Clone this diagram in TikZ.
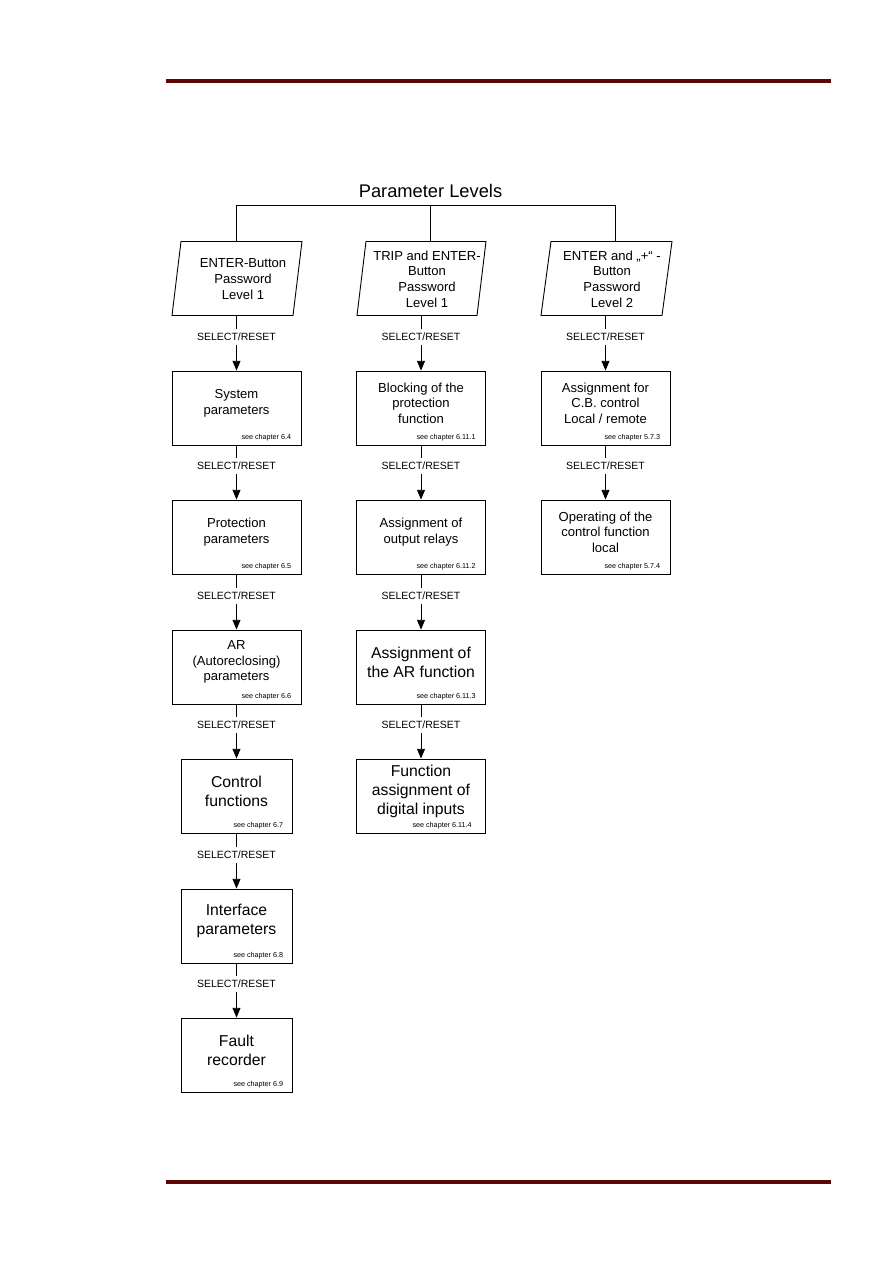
\documentclass[tikz,border=0pt]{standalone}
\usepackage{fontspec}
\setmainfont{Liberation Sans}
\usetikzlibrary{arrows.meta,calc}
\definecolor{hdr}{RGB}{92,6,6}
\begin{document}
\begin{tikzpicture}[x=0.6667pt,y=-0.6667pt,
 box/.style={draw, line width=0.6pt, minimum height=49.3pt, inner sep=0pt},
 wbox/.style={box, minimum width=86pt},
 nbox/.style={box, minimum width=74pt},
 txt/.style={align=center, inner sep=0pt, font=\fontsize{8.7}{10.4}\selectfont},
 bigtxt/.style={align=center, inner sep=0pt, font=\fontsize{10.5}{12.7}\selectfont},
 ref/.style={anchor=base east, inner sep=0pt, font=\fontsize{4.8}{5.5}\selectfont},
 sel/.style={inner sep=2.5pt, font=\fontsize{7}{8}\selectfont},
 conn/.style={line width=0.6pt},
 arr/.style={conn, -{Triangle[length=6.5pt,width=5.3pt]}},
 rule/.style={line width=2.6pt, hdr}]
\useasboundingbox (0,0) rectangle (893,1263);
% header/footer rules
\coordinate (h1) at (166,81); \coordinate (h2) at (831,81);
\coordinate (f1) at (166,1182); \coordinate (f2) at (831,1182);
\draw[rule] (h1) -- (h2);
\draw[rule] (f1) -- (f2);
% title and bus
\node[anchor=base, inner sep=0pt, font=\fontsize{12.2}{14}\selectfont] (title) at (430.5,197) {Parameter Levels};
\coordinate (bus1) at (236.5,205.5); \coordinate (bus2) at (430,205.5); \coordinate (bus3) at (615.5,205.5);
\coordinate (p1t) at (236.5,241.5); \coordinate (p2t) at (430,241.5); \coordinate (p3t) at (615.5,241.5);
\coordinate (p1b) at (236.5,315.5); \coordinate (p2b) at (421,315.5); \coordinate (p3b) at (605.5,315.5);
\draw[conn] (p1t) -- (bus1) -- (bus3) -- (p3t);
\draw[conn] (bus2) -- (p2t);
% parallelograms
\draw[conn] (172,315.5) -- (293,315.5) -- (302,241.5) -- (181,241.5) -- cycle;
\draw[conn] (357,315.5) -- (477,315.5) -- (486,241.5) -- (366,241.5) -- cycle;
\draw[conn] (541,315.5) -- (662,315.5) -- (672,241.5) -- (551,241.5) -- cycle;
\node[txt, font=\fontsize{8.7}{10.5}\selectfont] (pt1) at (243,279) {ENTER-Button\\Password\\Level 1};
\node[txt, font=\fontsize{8.7}{10.5}\selectfont] (pt2) at (427,279) {TRIP and ENTER-\\Button\\Password\\Level 1};
\node[txt, font=\fontsize{8.7}{10.5}\selectfont] (pt3) at (612,279) {ENTER and „+“ -\\Button\\Password\\Level 2};
% column 1
\node[wbox] (b11) at (236.5,408) {};
\node[txt] (b11t) at ($(b11.center)+(0,-5)$) {System\\parameters};
\node[ref] (b11r) at ($(b11.south east)+(-10,-6)$) {see chapter 6.4};
\node[wbox] (b12) at (236.5,537) {};
\node[txt] (b12t) at ($(b12.center)+(0,-5)$) {Protection\\parameters};
\node[ref] (b12r) at ($(b12.south east)+(-10,-6)$) {see chapter 6.5};
\node[wbox] (b13) at (236.5,667) {};
\node[txt] (b13t) at ($(b13.center)+(0,-5)$) {AR\\(Autoreclosing)\\parameters};
\node[ref] (b13r) at ($(b13.south east)+(-10,-6)$) {see chapter 6.6};
\node[nbox] (b14) at (236.5,796) {};
\node[bigtxt] (b14t) at ($(b14.center)+(0,-5)$) {Control\\functions};
\node[ref] (b14r) at ($(b14.south east)+(-9,-6)$) {see chapter 6.7};
\node[nbox] (b15) at (236.5,926) {};
\node[bigtxt] (b15t) at ($(b15.center)+(0,-5)$) {Interface\\parameters};
\node[ref] (b15r) at ($(b15.south east)+(-9,-6)$) {see chapter 6.8};
\node[nbox] (b16) at (236.5,1055) {};
\node[bigtxt] (b16t) at ($(b16.center)+(0,-5)$) {Fault\\recorder};
\node[ref] (b16r) at ($(b16.south east)+(-9,-6)$) {see chapter 6.9};
% column 2
\node[wbox] (b21) at (421,408) {};
\node[txt] (b21t) at ($(b21.center)+(0,-5)$) {Blocking of the\\protection\\function};
\node[ref] (b21r) at ($(b21.south east)+(-10,-6)$) {see chapter 6.11.1};
\node[wbox] (b22) at (421,537) {};
\node[txt] (b22t) at ($(b22.center)+(0,-5)$) {Assignment of\\output relays};
\node[ref] (b22r) at ($(b22.south east)+(-10,-6)$) {see chapter 6.11.2};
\node[wbox] (b23) at (421,667) {};
\node[bigtxt] (b23t) at ($(b23.center)+(0,-5)$) {Assignment of\\the AR function};
\node[ref] (b23r) at ($(b23.south east)+(-10,-6)$) {see chapter 6.11.3};
\node[wbox] (b24) at (421,796) {};
\node[bigtxt] (b24t) at ($(b24.center)+(0,-5)$) {Function\\assignment of\\digital inputs};
\node[ref] (b24r) at ($(b24.south east)+(-14,-6)$) {see chapter 6.11.4};
% column 3
\node[wbox] (b31) at (605.5,408) {};
\node[txt] (b31t) at ($(b31.center)+(0,-5)$) {Assignment for\\C.B. control\\Local / remote};
\node[ref] (b31r) at ($(b31.south east)+(-10,-6)$) {see chapter 5.7.3};
\node[wbox] (b32) at (605.5,537) {};
\node[txt] (b32t) at ($(b32.center)+(0,-5)$) {Operating of the\\control function\\local};
\node[ref] (b32r) at ($(b32.south east)+(-10,-6)$) {see chapter 5.7.4};
% SELECT/RESET labels and connectors
\node[sel] (s11) at (236.5,337) {SELECT/RESET};
\node[sel] (s12) at (236.5,466) {SELECT/RESET};
\node[sel] (s13) at (236.5,596) {SELECT/RESET};
\node[sel] (s14) at (236.5,725) {SELECT/RESET};
\node[sel] (s15) at (236.5,855) {SELECT/RESET};
\node[sel] (s16) at (236.5,984) {SELECT/RESET};
\node[sel] (s21) at (421,337) {SELECT/RESET};
\node[sel] (s22) at (421,466) {SELECT/RESET};
\node[sel] (s23) at (421,596) {SELECT/RESET};
\node[sel] (s24) at (421,725) {SELECT/RESET};
\node[sel] (s31) at (605.5,337) {SELECT/RESET};
\node[sel] (s32) at (605.5,466) {SELECT/RESET};
\draw[conn] (p1b) -- (s11.north); \draw[arr] (s11.south) -- (b11.north);
\draw[conn] (b11.south) -- (s12.north); \draw[arr] (s12.south) -- (b12.north);
\draw[conn] (b12.south) -- (s13.north); \draw[arr] (s13.south) -- (b13.north);
\draw[conn] (b13.south) -- (s14.north); \draw[arr] (s14.south) -- (b14.north);
\draw[conn] (b14.south) -- (s15.north); \draw[arr] (s15.south) -- (b15.north);
\draw[conn] (b15.south) -- (s16.north); \draw[arr] (s16.south) -- (b16.north);
\draw[conn] (p2b) -- (s21.north); \draw[arr] (s21.south) -- (b21.north);
\draw[conn] (b21.south) -- (s22.north); \draw[arr] (s22.south) -- (b22.north);
\draw[conn] (b22.south) -- (s23.north); \draw[arr] (s23.south) -- (b23.north);
\draw[conn] (b23.south) -- (s24.north); \draw[arr] (s24.south) -- (b24.north);
\draw[conn] (p3b) -- (s31.north); \draw[arr] (s31.south) -- (b31.north);
\draw[conn] (b31.south) -- (s32.north); \draw[arr] (s32.south) -- (b32.north);
\end{tikzpicture}
\end{document}
